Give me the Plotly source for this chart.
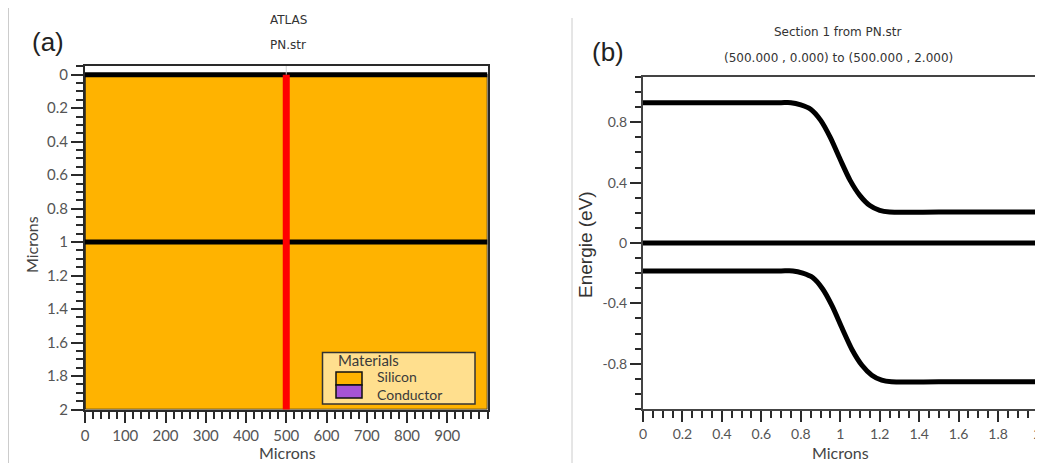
import plotly.graph_objects as go

# ---------------- Data ----------------
# (a) structure: silicon region (microns), region boundaries, cutline
si_x = [0, 1000, 1000, 0, 0]
si_y = [0, 0, 2, 2, 0]
boundary_depths = [0, 1]
struct_width = [0, 1000]
cutline_x = 500
cutline_depth = [0, 2.01]
left_xtick_vals = [0, 100, 200, 300, 400, 500, 600, 700, 800, 900]
left_ytick_vals = [0, 0.2, 0.4, 0.6, 0.8, 1, 1.2, 1.4, 1.6, 1.8, 2]
legend_title = "Materials"
legend_names = ["Silicon", "Conductor"]
legend_colors = ["#FFB300", "#A653D6"]

# (b) band diagram along the cutline
pos_c = [0, 0.5, 0.7, 0.75, 0.8, 0.85, 0.9, 0.95, 1.0, 1.05, 1.1, 1.15, 1.2, 1.25, 1.5, 2.0]
ec = [0.93, 0.93, 0.93, 0.93, 0.915, 0.886, 0.814, 0.698, 0.553, 0.415, 0.314, 0.248, 0.216, 0.205, 0.205, 0.205]
pos_v = [0, 0.5, 0.7, 0.76, 0.81, 0.86, 0.91, 0.96, 1.01, 1.06, 1.11, 1.16, 1.21, 1.26, 1.5, 2.0]
ev = [-0.185, -0.185, -0.185, -0.185, -0.2, -0.229, -0.303, -0.42, -0.567, -0.707, -0.81, -0.876, -0.909, -0.92, -0.92, -0.92]
ef_x = [0, 2]
ef = [0, 0]
right_ytick_vals = [-0.8, -0.4, 0, 0.4, 0.8]
right_ytick_text = ["-0.8", "-0.4", "0", "0.4", "0.8"]

# page offset (browser body margin) and figure size
OFF = 8
W, H = 1043 - OFF, 463 - OFF
ORANGE = legend_colors[0]
TICKFONT = dict(family="Lato", size=15, color="#555")
TICKFONT_R = dict(family="Lato", size=14, color="#555")
AX = "#2a2a2a"

left_yrange = [2.0, -0.055]


def px_x(p):
    return (p - OFF) / W


def px_y(p):
    return 1 - (p - OFF) / H


fig = go.Figure()

# ---- (a) ----
fig.add_trace(go.Scatter(x=si_x, y=si_y, fill="toself", fillcolor=ORANGE, mode="lines",
                         line=dict(color="#222", width=1.5), name=legend_names[0],
                         xaxis="x", yaxis="y", hoverinfo="skip", showlegend=False))
bx, by = [], []
for d in boundary_depths:
    bx += [struct_width[0], struct_width[1], None]
    by += [d, d, None]
fig.add_trace(go.Scatter(x=bx, y=by, mode="lines", line=dict(color="black", width=5),
                         xaxis="x", yaxis="y", showlegend=False, hoverinfo="skip"))
fig.add_trace(go.Scatter(x=[cutline_x, cutline_x], y=[left_yrange[1], cutline_depth[0]], mode="lines",
                         line=dict(color="#cfcfcf", width=1),
                         xaxis="x", yaxis="y", showlegend=False, hoverinfo="skip"))
fig.add_trace(go.Scatter(x=[cutline_x, cutline_x], y=cutline_depth, mode="lines",
                         line=dict(color="#FF0000", width=7), cliponaxis=False,
                         xaxis="x", yaxis="y", showlegend=False, hoverinfo="skip"))

# ---- (b) ----
for xx, yy in [(pos_c, ec), (ef_x, ef), (pos_v, ev)]:
    fig.add_trace(go.Scatter(x=xx, y=yy, mode="lines",
                             line=dict(color="black", width=5, shape="spline", smoothing=0.7),
                             xaxis="x2", yaxis="y2", showlegend=False, hoverinfo="skip"))

common = dict(showgrid=False, zeroline=False, showline=True, linecolor=AX, linewidth=2,
              mirror=True, ticks="outside", tickcolor=AX, tickwidth=2, automargin=False)

fig.update_layout(
    width=W, height=H, margin=dict(l=0, r=0, t=0, b=0),
    paper_bgcolor="white", plot_bgcolor="white", showlegend=False,
    xaxis=dict(domain=[px_x(85), px_x(487.5)], range=[0, 1000], tickmode="array",
               tickvals=left_xtick_vals, ticklen=11, tickfont=TICKFONT,
               minor=dict(tickmode="linear", tick0=0, dtick=20, ticklen=7, tickwidth=1.5,
                          tickcolor=AX, ticks="outside", showgrid=False),
               anchor="y", **common),
    yaxis=dict(domain=[px_y(409.5), px_y(65.5)], range=left_yrange, tickmode="array",
               tickvals=left_ytick_vals, ticklen=12, tickfont=TICKFONT,
               minor=dict(tickmode="linear", tick0=0, dtick=0.05, ticklen=7, tickwidth=1.5,
                          tickcolor=AX, ticks="outside", showgrid=False),
               anchor="x", **common),
    xaxis2=dict(domain=[px_x(643), px_x(1037.5)], range=[0, 2], tickmode="linear", tick0=0, dtick=0.2,
                ticklen=11, tickfont=TICKFONT_R,
                minor=dict(tickmode="linear", tick0=0, dtick=0.05, ticklen=7, tickwidth=1.5,
                           tickcolor=AX, ticks="outside", showgrid=False),
                anchor="y2", **{**common, "linecolor": "#444", "linewidth": 2}),
    yaxis2=dict(domain=[px_y(409), px_y(77)], range=[-1.1, 1.1], tickmode="array",
                tickvals=right_ytick_vals, ticktext=right_ytick_text, ticklen=11, tickfont=TICKFONT_R,
                minor=dict(tickmode="linear", tick0=0, dtick=0.1, ticklen=6, tickwidth=1.5,
                           tickcolor=AX, ticks="outside", showgrid=False),
                anchor="x2", **{**common, "linecolor": "#444", "linewidth": 2}),
)

ann = []


def add_text(x, y, text, size, family, color="#333", angle=0, xanchor="center"):
    ann.append(dict(x=px_x(x), y=px_y(y), xref="paper", yref="paper", text=text, showarrow=False,
                    font=dict(size=size, family=family, color=color), textangle=angle,
                    xanchor=xanchor, yanchor="middle"))


add_text(288, 20, "ATLAS", 12, "DejaVu Sans")
add_text(288, 45, "PN.str", 12, "DejaVu Sans")
add_text(48, 42, "(a)", 26, "Liberation Sans", "#222")
add_text(287, 452, "Microns", 16, "Lato", "#444")
add_text(31, 245, "Microns", 16, "Lato", "#444", -90)
add_text(838, 32, "Section 1 from PN.str", 12, "DejaVu Sans")
add_text(838, 58, "(500.000 , 0.000) to (500.000 , 2.000)", 12, "DejaVu Sans")
add_text(608, 52, "(b)", 26, "Liberation Sans", "#222")
add_text(840, 452, "Microns", 16, "Lato", "#444")
add_text(585, 245, "Energie (eV)", 19, "Liberation Sans", "#333", -90)

# Materials legend box (inside panel a)
shapes = [
    dict(type="rect", xref="paper", yref="paper", x0=px_x(322.5), x1=px_x(475), y0=px_y(404), y1=px_y(352.5),
         fillcolor="#FFDF8E", line=dict(color="#333", width=1.5), layer="above"),
]
add_text(336, 360, legend_title, 15, "Lato", "#3a3a3a", xanchor="left")
sw_top, sw_h = 372, 13
# both material names in one text block (tightly stacked, as in the reference)
ann.append(dict(x=px_x(375), y=px_y(sw_top + sw_h), xref="paper", yref="paper",
                text="<br>".join(legend_names), showarrow=False, align="left",
                font=dict(size=14, family="Lato", color="#3a3a3a"),
                xanchor="left", yanchor="middle"))
for i, col in enumerate(legend_colors):
    t = sw_top + i * sw_h
    shapes.append(dict(type="rect", xref="paper", yref="paper", x0=px_x(336), x1=px_x(362),
                       y0=px_y(t + sw_h), y1=px_y(t), fillcolor=col,
                       line=dict(color="#111", width=1.5), layer="above"))

# image panel border lines
shapes += [
    dict(type="line", xref="paper", yref="paper", x0=px_x(8.5), x1=px_x(8.5), y0=0, y1=px_y(5),
         line=dict(color="#cccccc", width=1)),
    dict(type="line", xref="paper", yref="paper", x0=px_x(572), x1=px_x(572), y0=0, y1=px_y(18),
         line=dict(color="#cccccc", width=1)),
]
fig.update_layout(annotations=ann, shapes=shapes)

fig.write_html("out.html")
